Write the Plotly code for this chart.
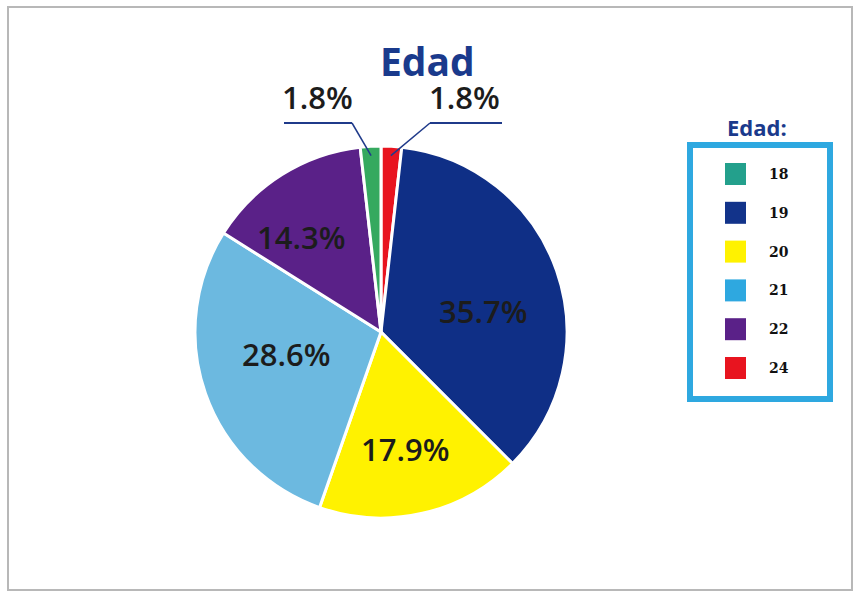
import math
import plotly.graph_objects as go

# Age distribution (counts per age)
ages = ["18", "19", "20", "21", "22", "24"]
counts = [1, 20, 10, 16, 8, 1]

# Slice order around the pie, clockwise from 12 o'clock
pie_order = ["24", "19", "20", "21", "22", "18"]

slice_colors = {
    "18": "#35a95f",
    "19": "#0f2f86",
    "20": "#fff200",
    "21": "#6cb9e0",
    "22": "#5a2188",
    "24": "#e8141f",
}
legend_colors = {
    "18": "#23a08c",
    "19": "#12338a",
    "20": "#fff200",
    "21": "#2ea8e0",
    "22": "#5a2188",
    "24": "#e8141f",
}

# Small pixel nudges applied to the in-slice labels (from the sector centroid)
label_nudge = {"19": (8, 12), "20": (-2, 2), "21": (7, -14), "22": (-16, 7)}

W, H = 857, 593
CX, CY, R = 381, 332, 186


def px(x):
    return x / W


def py(y):
    return 1 - y / H


value_of = dict(zip(ages, counts))
vals = [value_of[a] for a in pie_order]
total = sum(vals)

fig = go.Figure()
fig.add_trace(go.Pie(
    labels=pie_order,
    values=vals,
    sort=False,
    direction="clockwise",
    rotation=0,
    marker=dict(colors=[slice_colors[a] for a in pie_order],
                line=dict(color="white", width=3)),
    textinfo="none",
    hoverinfo="label+percent",
    showlegend=False,
    domain=dict(x=[px(CX - R), px(CX + R)], y=[py(CY + R), py(CY - R)]),
))

annotations = []
shapes = []

# Outer frame
shapes.append(dict(type="rect", xref="paper", yref="paper",
                   x0=px(8), x1=px(852), y0=py(590), y1=py(7),
                   line=dict(color="#b8b8b8", width=2)))

# Percentage labels
pct_font = dict(family="Open Sans, Noto Sans, sans-serif", size=31,
                color="#1c1c1c", weight=600)
start = 0.0
for a, v in zip(pie_order, vals):
    sweep = v / total * 360
    mid = math.radians(start + sweep / 2)
    start += sweep
    text = f"{v / total * 100:.1f}%"
    if v / total > 0.05:
        half = math.radians(sweep / 2)
        r = 2 * R * math.sin(half) / (3 * half)   # sector centroid distance
        dx, dy = label_nudge.get(a, (0, 0))
        x = CX + r * math.sin(mid) + dx
        y = CY - r * math.cos(mid) + dy
        annotations.append(dict(x=px(x), y=py(y), xref="paper", yref="paper",
                                text=text, showarrow=False, font=pct_font,
                                xanchor="center", yanchor="middle"))
    else:
        # small slices: label outside with underline and leader line
        tx = CX + 0.95 * R * math.sin(mid)
        ty = CY - 0.95 * R * math.cos(mid)
        if math.sin(mid) < 0:
            ux0, ux1, knee = 284, 352, 352
            lx = 317
        else:
            ux0, ux1, knee = 430, 502, 430
            lx = 464
        shapes.append(dict(type="line", xref="paper", yref="paper",
                           x0=px(ux0), x1=px(ux1), y0=py(123), y1=py(123),
                           line=dict(color="#1f3a8a", width=2)))
        shapes.append(dict(type="line", xref="paper", yref="paper",
                           x0=px(knee), x1=px(tx), y0=py(123), y1=py(ty),
                           line=dict(color="#1f3a8a", width=1.5)))
        annotations.append(dict(x=px(lx), y=py(120), xref="paper", yref="paper",
                                text=text, showarrow=False, font=pct_font,
                                xanchor="center", yanchor="bottom"))

# Title
annotations.append(dict(x=px(427), y=py(61), xref="paper", yref="paper",
                        text="<b>Edad</b>", showarrow=False,
                        font=dict(family="Open Sans, sans-serif", size=39, color="#1a3a8c"),
                        xanchor="center", yanchor="middle"))

# Legend box
annotations.append(dict(x=px(757), y=py(127), xref="paper", yref="paper",
                        text="<b>Edad:</b>", showarrow=False,
                        font=dict(family="Open Sans, sans-serif", size=22, color="#1a3a8c"),
                        xanchor="center", yanchor="middle"))
shapes.append(dict(type="rect", xref="paper", yref="paper",
                   x0=px(690), x1=px(830), y0=py(399), y1=py(145),
                   line=dict(color="#2ea8e0", width=6)))
for i, a in enumerate(ages):
    yc = 174 + i * 38.8
    shapes.append(dict(type="rect", xref="paper", yref="paper",
                       x0=px(725), x1=px(746), y0=py(yc + 11), y1=py(yc - 11),
                       fillcolor=legend_colors[a], line=dict(width=0)))
    annotations.append(dict(x=px(767), y=py(yc), xref="paper", yref="paper",
                            text=f"<b>{a}</b>", showarrow=False,
                            font=dict(family="DejaVu Serif, serif", size=14, color="#111111"),
                            xanchor="left", yanchor="middle"))

fig.update_layout(
    width=W, height=H,
    margin=dict(l=0, r=0, t=0, b=0),
    paper_bgcolor="white",
    plot_bgcolor="white",
    shapes=shapes,
    annotations=annotations,
)

fig.write_html("out.html")
